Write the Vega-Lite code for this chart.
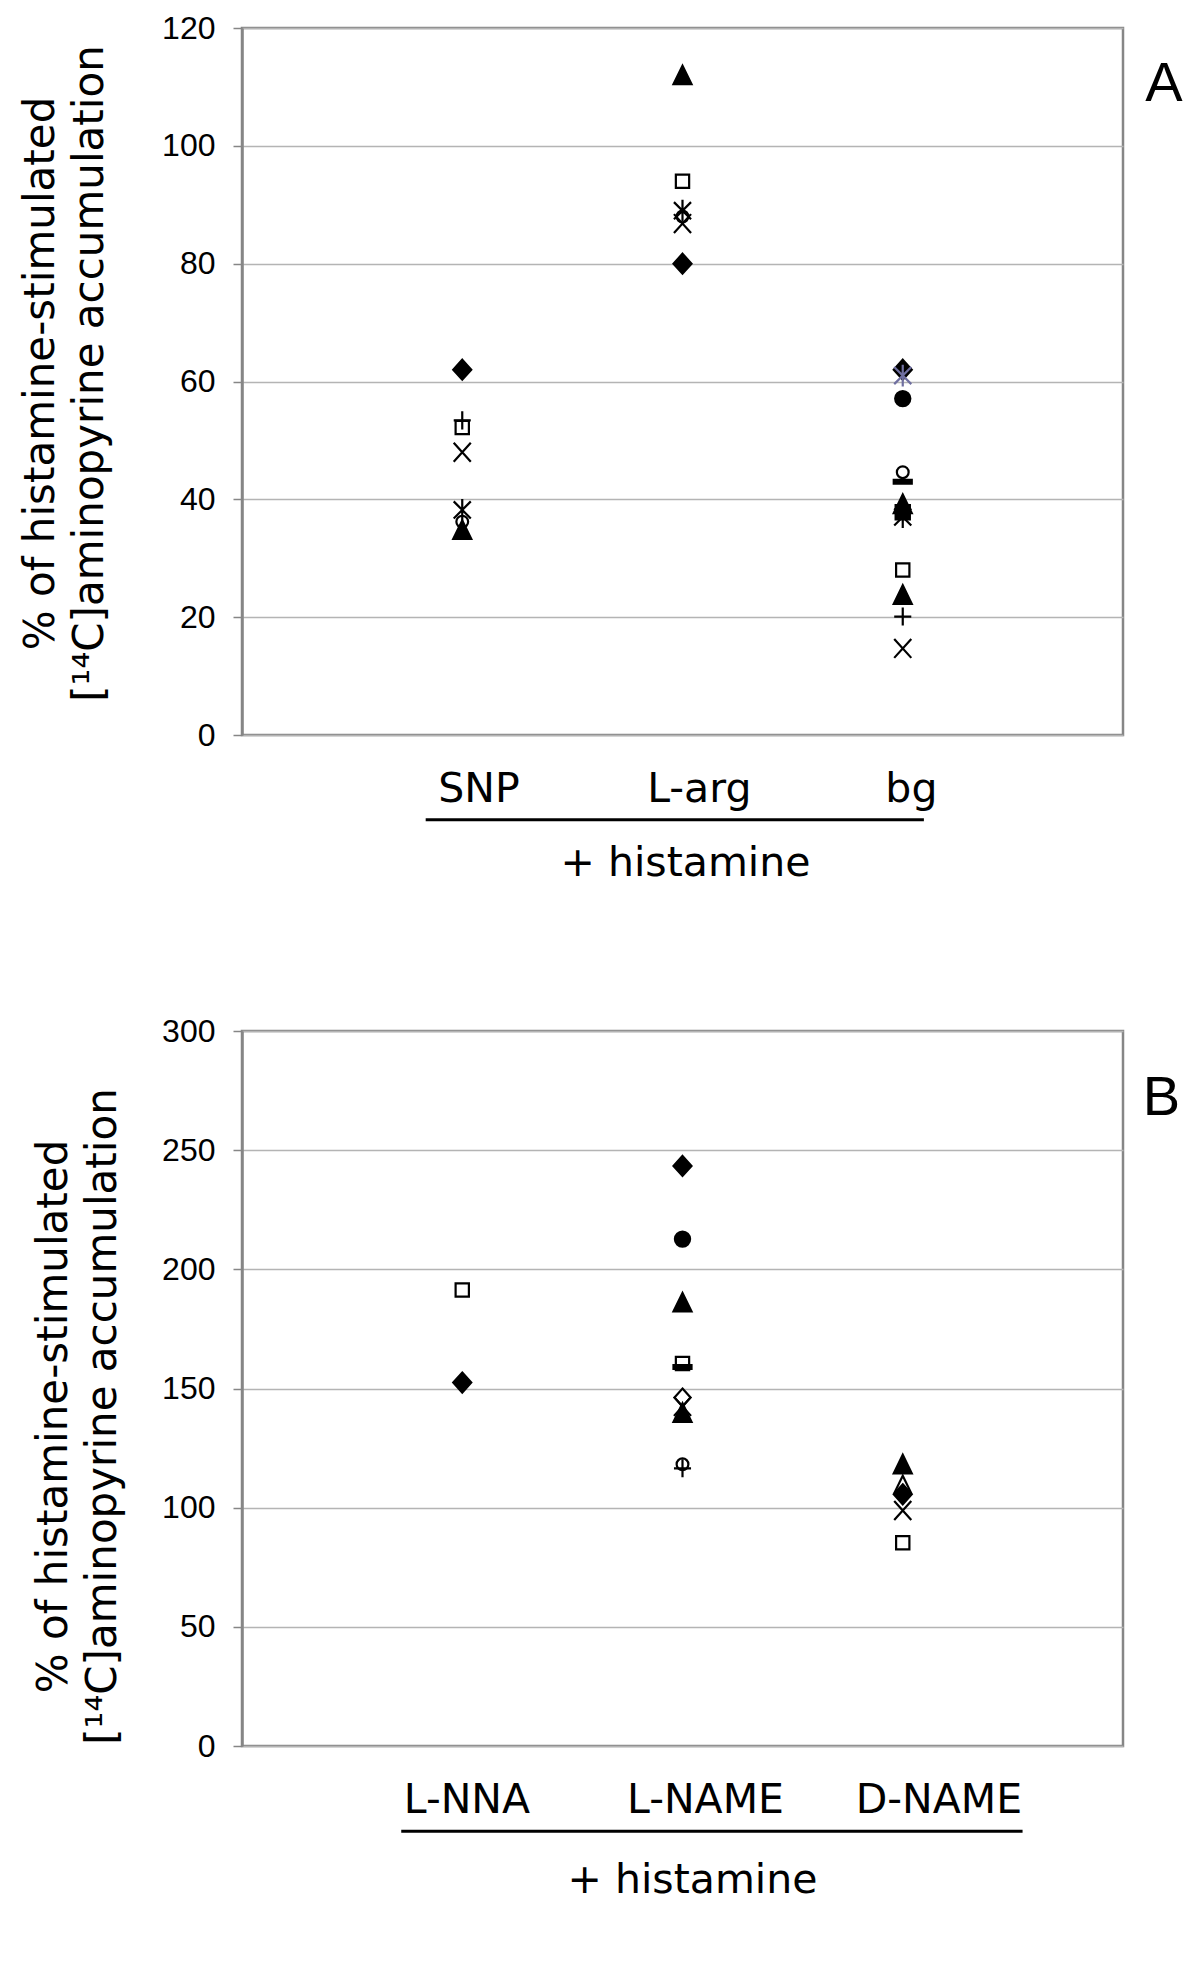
{
  "$schema": "https://vega.github.io/schema/vega-lite/v6.json",
  "background": "white",
  "padding": {"left": 18, "top": 10, "right": 0, "bottom": 0},
  "config": {
    "view": {"stroke": "#868686", "strokeWidth": 2.5},
    "font": "DejaVu Sans"
  },
  "datasets": {
    "A": [
      {"x": 1, "m": "dia", "v": 62},
      {"x": 1, "m": "sqo", "v": 52.2},
      {"x": 1, "m": "plus", "v": 53.4},
      {"x": 1, "m": "x", "v": 48},
      {"x": 1, "m": "ciro", "v": 36.2},
      {"x": 1, "m": "star", "v": 38.2},
      {"x": 1, "m": "tri", "v": 34.8},
      {"x": 2, "m": "tri", "v": 112},
      {"x": 2, "m": "sqo", "v": 94},
      {"x": 2, "m": "ciro", "v": 88},
      {"x": 2, "m": "star", "v": 89},
      {"x": 2, "m": "x", "v": 86.8},
      {"x": 2, "m": "dia", "v": 80},
      {"x": 3, "m": "dia", "v": 62},
      {"x": 3, "m": "starb", "v": 61},
      {"x": 3, "m": "cir", "v": 57.1},
      {"x": 3, "m": "ciro", "v": 44.6},
      {"x": 3, "m": "dash", "v": 43},
      {"x": 3, "m": "tri", "v": 39.2},
      {"x": 3, "m": "sq", "v": 37.8},
      {"x": 3, "m": "star", "v": 37},
      {"x": 3, "m": "sqo", "v": 28},
      {"x": 3, "m": "tri", "v": 23.8},
      {"x": 3, "m": "plus", "v": 20.1},
      {"x": 3, "m": "x", "v": 14.7}
    ],
    "B": [
      {"x": 1, "m": "sqo", "v": 191.3},
      {"x": 1, "m": "dia", "v": 152.5},
      {"x": 2, "m": "dia", "v": 243.4},
      {"x": 2, "m": "cir", "v": 212.7},
      {"x": 2, "m": "tri", "v": 186.1},
      {"x": 2, "m": "sqo", "v": 160.5},
      {"x": 2, "m": "dash", "v": 159},
      {"x": 2, "m": "diao", "v": 146.2},
      {"x": 2, "m": "tri", "v": 139.8},
      {"x": 2, "m": "x", "v": 142.5},
      {"x": 2, "m": "ciro", "v": 118.2},
      {"x": 2, "m": "plus", "v": 116.5},
      {"x": 3, "m": "tri", "v": 118.2},
      {"x": 3, "m": "trio", "v": 109.8},
      {"x": 3, "m": "dia", "v": 105.6},
      {"x": 3, "m": "x", "v": 98.8},
      {"x": 3, "m": "sqo", "v": 85.3}
    ]
  },
  "resolve": {"scale": {"x": "independent", "y": "independent", "shape": "independent", "fill": "independent", "stroke": "independent"}},
  "spacing": 128,
  "vconcat": [
    {
      "width": 881,
      "height": 707,
      "layer": [
        {
          "data": {"name": "A"},
          "mark": {"type": "point", "strokeWidth": 2.2, "opacity": 1, "size": 360},
          "encoding": {
            "x": {
              "field": "x", "type": "quantitative",
              "scale": {"domain": [0, 4], "nice": false, "zero": false},
              "axis": {
                "values": [1.074, 2.074, 3.037],
                "labelExpr": "datum.value < 1.5 ? 'SNP' : datum.value < 2.5 ? 'L-arg' : 'bg'",
                "ticks": false, "domain": false, "grid": false,
                "labelFont": "DejaVu Sans", "labelFontSize": 41, "labelColor": "black",
                "labelPadding": 34, "labelFlush": false, "labelOverlap": false,
                "title": "+ histamine", "titleFont": "DejaVu Sans", "titleFontSize": 41,
                "titleFontWeight": "normal", "titleColor": "black", "titlePadding": 34, "titleX": 443
              }
            },
            "y": {
              "field": "v", "type": "quantitative",
              "scale": {"domain": [0, 120], "nice": false, "zero": false},
              "axis": {
                "values": [0, 20, 40, 60, 80, 100, 120],
                "grid": true, "gridColor": "#b4b4b4", "gridWidth": 1.5,
                "domainColor": "#868686", "domainWidth": 2.5,
                "tickColor": "#868686", "tickSize": 9, "tickWidth": 1.5,
                "labelFont": "Liberation Sans", "labelFontSize": 32, "labelColor": "black", "labelPadding": 18,
                "title": ["% of histamine-stimulated", "[¹⁴C]aminopyrine accumulation"],
                "titleFont": "DejaVu Sans", "titleFontSize": 42, "titleFontWeight": "normal",
                "titleLineHeight": 49, "titleColor": "black", "titlePadding": 50, "titleY": 345
              }
            },
            "shape": {
              "field": "m", "type": "nominal", "legend": null,
              "scale": {
                "domain": ["dia", "sqo", "tri", "x", "star", "starb", "cir", "ciro", "plus", "dash", "sq", "diao", "trio"],
                "range": [
                  "M0,-1.05L0.95,0L0,1.05L-0.95,0Z",
                  "M-0.7,-0.7L0.7,-0.7L0.7,0.7L-0.7,0.7Z",
                  "M0,-1L0.95,0.95L-0.95,0.95Z",
                  "M-0.9,-1L0.9,1M0.9,-1L-0.9,1",
                  "M-0.9,-0.9L0.9,0.9M0.9,-0.9L-0.9,0.9M0,-1.15L0,1.15",
                  "M-0.9,-0.9L0.9,0.9M0.9,-0.9L-0.9,0.9M0,-1.15L0,1.15",
                  "M-0.8,0A0.8,0.8 0 1,0 0.8,0A0.8,0.8 0 1,0 -0.8,0Z",
                  "M-0.62,0A0.62,0.62 0 1,0 0.62,0A0.62,0.62 0 1,0 -0.62,0Z",
                  "M-0.9,0L0.9,0M0,-0.95L0,0.95",
                  "M-0.95,-0.2L0.95,-0.2L0.95,0.2L-0.95,0.2Z",
                  "M-0.75,-0.75L0.75,-0.75L0.75,0.75L-0.75,0.75Z",
                  "M0,-0.95L0.85,0L0,0.95L-0.85,0Z",
                  "M0,-0.9L0.85,0.85L-0.85,0.85Z"
                ]
              }
            },
            "fill": {
              "field": "m", "type": "nominal", "legend": null,
              "scale": {
                "domain": ["dia", "sqo", "tri", "x", "star", "starb", "cir", "ciro", "plus", "dash", "sq", "diao", "trio"],
                "range": ["black", "white", "black", "transparent", "transparent", "transparent", "black", "white", "transparent", "black", "black", "white", "white"]
              }
            },
            "stroke": {
              "field": "m", "type": "nominal", "legend": null,
              "scale": {
                "domain": ["dia", "sqo", "tri", "x", "star", "starb", "cir", "ciro", "plus", "dash", "sq", "diao", "trio"],
                "range": ["black", "black", "black", "black", "black", "#6f6fa0", "black", "black", "black", "black", "black", "black", "black"]
              }
            }
          }
        },
        {
          "data": {"values": [{"x1": 0.834, "x2": 3.096, "y": -14.4}]},
          "mark": {"type": "rule", "color": "black", "strokeWidth": 3, "clip": false},
          "encoding": {
            "x": {"field": "x1", "type": "quantitative"},
            "x2": {"field": "x2"},
            "y": {"field": "y", "type": "quantitative"}
          }
        },
        {
          "data": {"values": [{"x": 4.186, "y": 110.5, "t": "A"}]},
          "mark": {"type": "text", "font": "Liberation Sans", "fontSize": 56, "color": "black", "align": "center", "baseline": "middle", "clip": false},
          "encoding": {
            "x": {"field": "x", "type": "quantitative"},
            "y": {"field": "y", "type": "quantitative"},
            "text": {"field": "t"}
          }
        }
      ]
    },
    {
      "width": 881,
      "height": 715,
      "layer": [
        {
          "data": {"name": "B"},
          "mark": {"type": "point", "strokeWidth": 2.2, "opacity": 1, "size": 360},
          "encoding": {
            "x": {
              "field": "x", "type": "quantitative",
              "scale": {"domain": [0, 4], "nice": false, "zero": false},
              "axis": {
                "values": [1.019, 2.102, 3.162],
                "labelExpr": "datum.value < 1.5 ? 'L-NNA' : datum.value < 2.5 ? 'L-NAME' : 'D-NAME'",
                "ticks": false, "domain": false, "grid": false,
                "labelFont": "DejaVu Sans", "labelFontSize": 41, "labelColor": "black",
                "labelPadding": 34, "labelFlush": false, "labelOverlap": false,
                "title": "+ histamine", "titleFont": "DejaVu Sans", "titleFontSize": 41,
                "titleFontWeight": "normal", "titleColor": "black", "titlePadding": 40, "titleX": 450
              }
            },
            "y": {
              "field": "v", "type": "quantitative",
              "scale": {"domain": [0, 300], "nice": false, "zero": false},
              "axis": {
                "values": [0, 50, 100, 150, 200, 250, 300],
                "grid": true, "gridColor": "#b4b4b4", "gridWidth": 1.5,
                "domainColor": "#868686", "domainWidth": 2.5,
                "tickColor": "#868686", "tickSize": 9, "tickWidth": 1.5,
                "labelFont": "Liberation Sans", "labelFontSize": 32, "labelColor": "black", "labelPadding": 18,
                "title": ["% of histamine-stimulated", "[¹⁴C]aminopyrine accumulation"],
                "titleFont": "DejaVu Sans", "titleFontSize": 42, "titleFontWeight": "normal",
                "titleLineHeight": 49, "titleColor": "black", "titlePadding": 37, "titleY": 385
              }
            },
            "shape": {
              "field": "m", "type": "nominal", "legend": null,
              "scale": {
                "domain": ["dia", "sqo", "tri", "x", "star", "starb", "cir", "ciro", "plus", "dash", "sq", "diao", "trio"],
                "range": [
                  "M0,-1.05L0.95,0L0,1.05L-0.95,0Z",
                  "M-0.7,-0.7L0.7,-0.7L0.7,0.7L-0.7,0.7Z",
                  "M0,-1L0.95,0.95L-0.95,0.95Z",
                  "M-0.9,-1L0.9,1M0.9,-1L-0.9,1",
                  "M-0.9,-0.9L0.9,0.9M0.9,-0.9L-0.9,0.9M0,-1.15L0,1.15",
                  "M-0.9,-0.9L0.9,0.9M0.9,-0.9L-0.9,0.9M0,-1.15L0,1.15",
                  "M-0.8,0A0.8,0.8 0 1,0 0.8,0A0.8,0.8 0 1,0 -0.8,0Z",
                  "M-0.62,0A0.62,0.62 0 1,0 0.62,0A0.62,0.62 0 1,0 -0.62,0Z",
                  "M-0.9,0L0.9,0M0,-0.95L0,0.95",
                  "M-0.95,-0.2L0.95,-0.2L0.95,0.2L-0.95,0.2Z",
                  "M-0.75,-0.75L0.75,-0.75L0.75,0.75L-0.75,0.75Z",
                  "M0,-0.95L0.85,0L0,0.95L-0.85,0Z",
                  "M0,-0.9L0.85,0.85L-0.85,0.85Z"
                ]
              }
            },
            "fill": {
              "field": "m", "type": "nominal", "legend": null,
              "scale": {
                "domain": ["dia", "sqo", "tri", "x", "star", "starb", "cir", "ciro", "plus", "dash", "sq", "diao", "trio"],
                "range": ["black", "white", "black", "transparent", "transparent", "transparent", "black", "white", "transparent", "black", "black", "white", "white"]
              }
            },
            "stroke": {
              "field": "m", "type": "nominal", "legend": null,
              "scale": {
                "domain": ["dia", "sqo", "tri", "x", "star", "starb", "cir", "ciro", "plus", "dash", "sq", "diao", "trio"],
                "range": ["black", "black", "black", "black", "black", "#6f6fa0", "black", "black", "black", "black", "black", "black", "black"]
              }
            }
          }
        },
        {
          "data": {"values": [{"x1": 0.723, "x2": 3.544, "y": -35.8}]},
          "mark": {"type": "rule", "color": "black", "strokeWidth": 3, "clip": false},
          "encoding": {
            "x": {"field": "x1", "type": "quantitative"},
            "x2": {"field": "x2"},
            "y": {"field": "y", "type": "quantitative"}
          }
        },
        {
          "data": {"values": [{"x": 4.175, "y": 272, "t": "B"}]},
          "mark": {"type": "text", "font": "Liberation Sans", "fontSize": 56, "color": "black", "align": "center", "baseline": "middle", "clip": false},
          "encoding": {
            "x": {"field": "x", "type": "quantitative"},
            "y": {"field": "y", "type": "quantitative"},
            "text": {"field": "t"}
          }
        }
      ]
    }
  ]
}
